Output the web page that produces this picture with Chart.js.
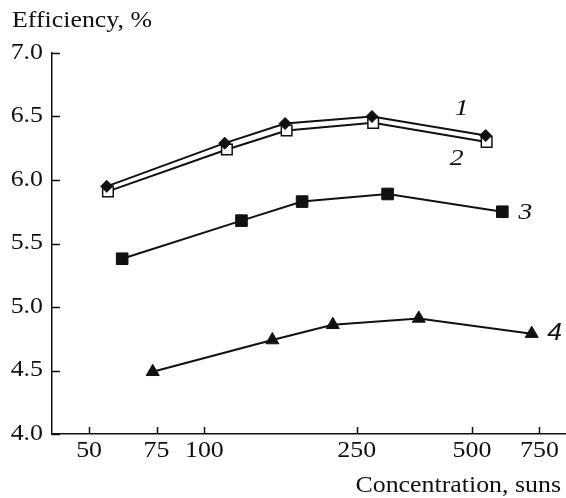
<!DOCTYPE html>
<html>
<head>
<meta charset="utf-8">
<script src="https://cdn.jsdelivr.net/npm/chart.js@4"></script>
<style>
  html, body { margin: 0; padding: 0; background: #fff; }
</style>
</head>
<body>
<canvas id="chart" width="566" height="498"></canvas>
<script>
// values: concentration (suns) vs efficiency (%)
const conc1 = [55.6, 113, 162.5, 274, 543];
const eff1 = [5.95, 6.29, 6.445, 6.50, 6.35];
const conc2 = [56, 114.5, 164, 276, 546];
const eff2 = [5.91, 6.24, 6.39, 6.45, 6.30];
const conc3 = [61, 125, 180, 301, 600];
const eff3 = [5.38, 5.68, 5.83, 5.89, 5.75];
const conc4 = [73.3, 150.5, 216.5, 363, 716];
const eff4 = [4.49, 4.74, 4.86, 4.91, 4.79];

const xTicks = [50, 75, 100, 250, 500, 750];
const yTicks = [4.0, 4.5, 5.0, 5.5, 6.0, 6.5, 7.0];
const curveLabels = ['1', '2', '3', '4'];

const ink = '#111';
const serif = '"Liberation Serif", "Times New Roman", serif';
const stretch = 1.15; // the scanned type is a bit wider than Liberation Serif

function pts(xs, ys) {
  return xs.map((v, i) => ({ x: v, y: ys[i] }));
}

// draw text widened horizontally around its anchor
function wideText(ctx, text, x, y, align, font) {
  ctx.save();
  ctx.translate(x, y);
  ctx.scale(stretch, 1);
  ctx.font = font;
  ctx.textAlign = align;
  ctx.textBaseline = 'middle';
  ctx.fillText(text, 0, 0);
  ctx.restore();
}

// where each curve number sits, relative to the curve's last point
const labelOffsets = [[-24, -27], [-30, 17], [23, 1], [23, 0]];
const labelFonts = ['italic 24px ' + serif, 'italic 24px ' + serif,
  'italic 24px ' + serif, 'italic 23px "Liberation Sans", sans-serif'];

const decor = {
  id: 'decor',
  afterDraw(chart) {
    const ctx = chart.ctx;
    const xs = chart.scales.x, ys = chart.scales.y;
    const area = chart.chartArea;
    const tickFont = '22.5px ' + serif;
    ctx.save();
    // inward tick marks
    ctx.strokeStyle = ink;
    ctx.lineWidth = 1.5;
    ctx.beginPath();
    xTicks.forEach(v => {
      const px = Math.round(xs.getPixelForValue(v)) + 0.5;
      ctx.moveTo(px, area.bottom);
      ctx.lineTo(px, area.bottom - 7);
    });
    yTicks.forEach(v => {
      const py = Math.round(ys.getPixelForValue(v)) + 0.5;
      ctx.moveTo(area.left, py);
      ctx.lineTo(area.left + 8, py);
    });
    ctx.stroke();

    ctx.fillStyle = ink;
    // tick labels
    xTicks.forEach(v => {
      wideText(ctx, String(v), xs.getPixelForValue(v), area.bottom + 17, 'center', tickFont);
    });
    yTicks.forEach(v => {
      wideText(ctx, v.toFixed(1), area.left - 9, ys.getPixelForValue(v), 'right', tickFont);
    });

    // axis titles
    wideText(ctx, 'Efficiency, %', 12, 21, 'left', '22.5px ' + serif);
    wideText(ctx, 'Concentration, suns', 561, 486, 'right', '22.5px ' + serif);

    // curve numbers
    chart.data.datasets.forEach((ds, i) => {
      const last = ds.data[ds.data.length - 1];
      const px = xs.getPixelForValue(last.x) + labelOffsets[i][0];
      const py = ys.getPixelForValue(last.y) + labelOffsets[i][1];
      wideText(ctx, curveLabels[i], px, py, 'center', labelFonts[i]);
    });
    ctx.restore();
  }
};

new Chart(document.getElementById('chart'), {
  type: 'line',
  data: {
    datasets: [
      { data: pts(conc1, eff1), pointStyle: 'rectRot', pointRadius: 6,
        backgroundColor: ink, borderColor: ink, pointBorderWidth: 1 },
      { data: pts(conc2, eff2), pointStyle: 'rect', pointRadius: 7.5,
        backgroundColor: '#fff', borderColor: ink, pointBorderWidth: 1.5 },
      { data: pts(conc3, eff3), pointStyle: 'rect', pointRadius: 8.2,
        backgroundColor: ink, borderColor: ink, pointBorderWidth: 1 },
      { data: pts(conc4, eff4), pointStyle: 'triangle', pointRadius: 7.5,
        backgroundColor: ink, borderColor: ink, pointBorderWidth: 1 }
    ]
  },
  options: {
    responsive: false,
    devicePixelRatio: 1,
    animation: false,
    elements: { line: { borderWidth: 2, tension: 0 } },
    layout: { autoPadding: false, padding: { top: 53, right: 0, left: 0, bottom: 0 } },
    plugins: { legend: { display: false }, tooltip: { enabled: false } },
    scales: {
      x: {
        type: 'logarithmic',
        min: 40,
        max: 880,
        afterBuildTicks: (scale) => { scale.ticks = xTicks.map(v => ({ value: v })); },
        afterFit: (scale) => {
          scale.height = 64;
          scale.paddingLeft = 0;
          scale.paddingRight = 0;
        },
        grid: { display: false, drawTicks: false },
        border: { display: true, color: ink, width: 1.5 },
        ticks: { display: false }
      },
      y: {
        min: 4,
        max: 7,
        afterBuildTicks: (scale) => { scale.ticks = yTicks.map(v => ({ value: v })); },
        afterFit: (scale) => {
          scale.width = 52;
          scale.paddingTop = 0;
          scale.paddingBottom = 0;
        },
        grid: { display: false, drawTicks: false },
        border: { display: true, color: ink, width: 1.5 },
        ticks: { display: false }
      }
    }
  },
  plugins: [decor]
});
</script>
</body>
</html>
